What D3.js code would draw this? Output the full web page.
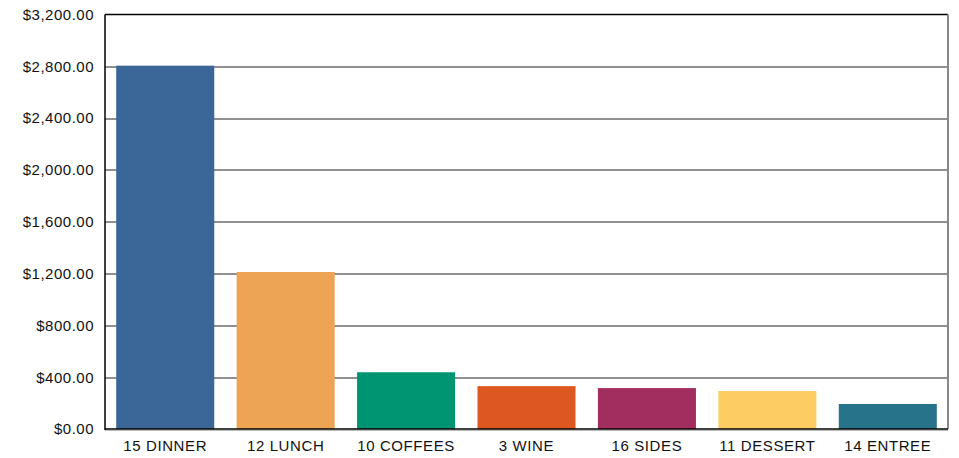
<!DOCTYPE html>
<html>
<head>
<meta charset="utf-8">
<script src="https://cdn.jsdelivr.net/npm/d3@7"></script>
<style>
  body { margin: 0; background: #fff; }
  text { font-family: "Liberation Sans", Arial, sans-serif; }
</style>
</head>
<body>
<div id="chart-area"></div>
<script>
// Data
const categories = ["15 DINNER", "12 LUNCH", "10 COFFEES", "3 WINE", "16 SIDES", "11 DESSERT", "14 ENTREE"];
const sales = [2805, 1212, 438, 331, 316, 293, 193];
const barColors = ["#3a6698", "#eea455", "#009572", "#dc5820", "#a22e60", "#fdcd63", "#27748a"];
const yTicks = [0, 400, 800, 1200, 1600, 2000, 2400, 2800, 3200];

const margins = {left: 105, right: 11, top: 14.5, bottom: 29};
const width = 959 - margins.left - margins.right;
const height = 458 - margins.top - margins.bottom;

const svg = d3.select("#chart-area")
  .append("svg")
  .attr("width", 959)
  .attr("height", 458);

const g = svg.append("g")
  .attr("transform", "translate(" + margins.left + "," + margins.top + ")");

// Scales
const xScale = d3.scaleBand()
  .domain(categories)
  .range([0, width])
  .paddingInner(0.186)
  .paddingOuter(0.093);

const yScale = d3.scaleLinear()
  .domain([0, 3200])
  .range([height, 0]);

const fmt = d3.format("$,.2f");

// Gridlines
g.append("g")
  .selectAll("line")
  .data(yTicks.filter(d => d > 0 && d < 3200))
  .enter().append("line")
  .attr("x1", 0)
  .attr("x2", width)
  .attr("y1", d => Math.round(yScale(d)) + 0.5)
  .attr("y2", d => Math.round(yScale(d)) + 0.5)
  .attr("stroke", "#222")
  .attr("stroke-width", 1);

// Frame: top and right
g.append("line")
  .attr("x1", 0).attr("x2", width)
  .attr("y1", 0).attr("y2", 0)
  .attr("stroke", "#000").attr("stroke-width", 1.5);
g.append("line")
  .attr("x1", width).attr("x2", width)
  .attr("y1", 0).attr("y2", height)
  .attr("stroke", "#888").attr("stroke-width", 2);

// Bars
g.selectAll("rect.bar")
  .data(sales)
  .enter().append("rect")
  .attr("class", "bar")
  .attr("x", (d, i) => xScale(categories[i]))
  .attr("width", xScale.bandwidth())
  .attr("y", d => yScale(d))
  .attr("height", d => height - yScale(d))
  .attr("fill", (d, i) => barColors[i]);

// Baseline with gray shadow
g.append("line")
  .attr("x1", 0).attr("x2", width)
  .attr("y1", height + 1.5).attr("y2", height + 1.5)
  .attr("stroke", "#bbb").attr("stroke-width", 1);
g.append("line")
  .attr("x1", 0).attr("x2", width)
  .attr("y1", height).attr("y2", height)
  .attr("stroke", "#000").attr("stroke-width", 1.5);

// Left axis line
g.append("line")
  .attr("x1", 0).attr("x2", 0)
  .attr("y1", 0).attr("y2", height + 1)
  .attr("stroke", "#000").attr("stroke-width", 1.5);

// Y axis labels
const yAxisCall = d3.axisLeft(yScale)
  .tickValues(yTicks)
  .tickSize(0)
  .tickPadding(11)
  .tickFormat(fmt);
const yAxis = g.append("g").call(yAxisCall);
yAxis.select(".domain").remove();
yAxis.selectAll("text")
  .attr("font-size", "15px")
  .attr("letter-spacing", "0.5px")
  .attr("font-family", "Liberation Sans, Arial, sans-serif")
  .attr("fill", "#111");

// X axis labels
const xAxisCall = d3.axisBottom(xScale).tickSize(0).tickPadding(11);
const xAxis = g.append("g")
  .attr("transform", "translate(0," + height + ")")
  .call(xAxisCall);
xAxis.select(".domain").remove();
xAxis.selectAll("text")
  .attr("font-size", "15px")
  .attr("letter-spacing", "0.6px")
  .attr("font-family", "Liberation Sans, Arial, sans-serif")
  .attr("fill", "#111");
</script>
</body>
</html>
